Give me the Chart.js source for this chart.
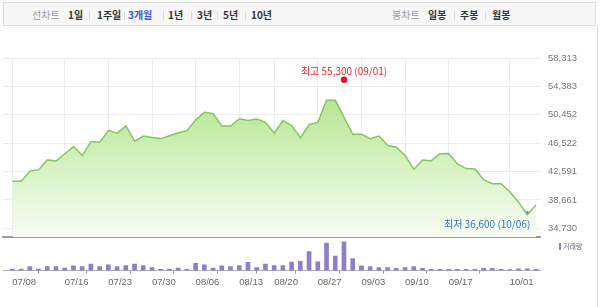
<!DOCTYPE html>
<html><head><meta charset="utf-8">
<script src="https://cdn.jsdelivr.net/npm/chart.js@4.4.1/dist/chart.umd.min.js"></script>
<style>
html,body{margin:0;padding:0;}
body{width:600px;height:307px;overflow:hidden;background:#fff;position:relative;font-family:'Noto Sans CJK KR','Noto Sans',sans-serif;}
.hdr{position:absolute;left:3px;top:2px;width:593px;height:24px;background:#f7f7f7;border:1px solid #dcdcdc;box-sizing:border-box;}
.t{position:absolute;top:9px;font-size:10px;line-height:12px;font-weight:bold;color:#333;white-space:nowrap;}
.g{color:#9a9a9a;font-weight:normal;}
.sel{color:#3b5cc4;}
.sep{position:absolute;top:11px;width:1px;height:9px;background:#dadada;}
.rb{position:absolute;left:597px;top:26px;width:1px;height:281px;background:#d6d6d6;}
#pc{position:absolute;left:0;top:40px;}
#vc{position:absolute;left:0;top:237px;}
.leg{position:absolute;left:559px;top:242px;font-size:7px;line-height:8px;color:#666;white-space:nowrap;}
.leg i{display:inline-block;width:2px;height:7px;background:#8f7fc4;margin-right:2px;vertical-align:-1px;}
</style>
</head><body>
<div class="hdr"></div>
<span class="t g" style="left:32px">선차트</span>
<span class="t" style="left:68px">1일</span>
<span class="sep" style="left:89px"></span>
<span class="t" style="left:97px">1주일</span>
<span class="sep" style="left:124px"></span>
<span class="t sel" style="left:128px">3개월</span>
<span class="sep" style="left:163px"></span>
<span class="t" style="left:168px">1년</span>
<span class="sep" style="left:191px"></span>
<span class="t" style="left:197px">3년</span>
<span class="sep" style="left:217px"></span>
<span class="t" style="left:223px">5년</span>
<span class="sep" style="left:245px"></span>
<span class="t" style="left:251px">10년</span>
<span class="t g" style="left:392px">봉차트</span>
<span class="t" style="left:428px">일봉</span>
<span class="sep" style="left:454px"></span>
<span class="t" style="left:460px">주봉</span>
<span class="sep" style="left:485px"></span>
<span class="t" style="left:492px">월봉</span>
<div class="rb"></div>
<canvas id="pc" width="600" height="211"></canvas>
<canvas id="vc" width="600" height="70"></canvas>
<div class="leg"><i></i>거래량</div>
<script>
// ---- data ----
const dates = ['07/08','07/09','07/10','07/11','07/14','07/15','07/16','07/17','07/18','07/21',
  '07/22','07/23','07/24','07/25','07/28','07/29','07/30','07/31','08/01','08/04',
  '08/05','08/06','08/07','08/08','08/11','08/12','08/13','08/14','08/18','08/19',
  '08/20','08/21','08/22','08/25','08/26','08/27','08/28','08/29','09/01','09/02',
  '09/03','09/04','09/05','09/08','09/09','09/10','09/11','09/12','09/15','09/16',
  '09/17','09/18','09/19','09/22','09/23','09/29','09/30','10/01','10/02','10/06','10/07'];
const closePrices = [41250,41250,42650,42850,44200,44050,45050,46050,44800,46750,
  46650,48300,47900,48900,46800,47500,47300,47150,47550,47950,
  48250,49750,50800,50600,48900,48900,49900,49650,49850,49400,
  47900,49650,48950,47250,49100,49400,52450,52450,50100,47750,
  47750,47150,47500,46200,45950,44800,42900,44200,44100,45050,
  45100,43650,43000,42950,41450,40900,40900,39800,38350,36600,37950];
const volumes = [170,170,430,170,430,430,270,500,430,700,
  430,600,430,530,700,530,330,130,170,270,
  130,770,600,270,500,430,530,870,330,700,
  530,530,900,980,2030,930,2930,1530,3070,1270,
  500,430,330,330,230,330,430,230,130,130,
  130,130,130,130,230,230,130,100,200,200,130];
const priceTicks = [34730,38661,42591,46522,50452,54383,58313];
const tickDates = ['07/08','07/16','07/23','07/30','08/06','08/13','08/20','08/27','09/03','09/10','09/17','10/01'];
const highDate = '09/01', highValue = 55300;
const lowDate = '10/06', lowValue = 36600;

// ---- helpers ----
const fmt = v => Math.round(v).toLocaleString('en-US');
const tickIdx = tickDates.map(d => dates.indexOf(d));
const xMin = -1.07, xMax = dates.length - 1 + 0.46;
const axisFont = {family:"'Liberation Sans', Arial, sans-serif", size:9.5};
const fixW = a => { a.width = 60; };

const markerPlugin = {
  id:'markers',
  afterDatasetsDraw(chart){
    const meta = chart.getDatasetMeta(1);
    const ctx = chart.ctx;
    ctx.save();
    ctx.font = "10px 'Noto Sans CJK KR', sans-serif";
    ctx.textBaseline = 'middle';
    const hp = meta.data[0], lp = meta.data[1];
    ctx.fillStyle = '#e0282e';
    ctx.textAlign = 'center';
    ctx.fillText('최고 ' + fmt(highValue) + ' (' + highDate + ')', hp.x, hp.y - 9);
    ctx.fillStyle = '#3470bd';
    ctx.textAlign = 'right';
    ctx.fillText('최저 ' + fmt(lowValue) + ' (' + lowDate + ')', lp.x + 3, lp.y + 9);
    ctx.restore();
  }
};

new Chart(document.getElementById('pc'), {
  data:{
    datasets:[{
      type:'line',
      data: closePrices.map((v,i)=>({x:i,y:v})),
      borderColor:'#84c65e', borderWidth:1.5, pointRadius:0, tension:0,
      fill:'start',
      backgroundColor(ctx){
        const ca = ctx.chart.chartArea;
        if(!ca) return 'rgba(170,225,130,0.5)';
        const g = ctx.chart.ctx.createLinearGradient(0, ca.top, 0, ca.bottom);
        g.addColorStop(0, '#a0dd76');
        g.addColorStop(0.45, '#c9eeb0');
        g.addColorStop(1, '#f8fdf5');
        return g;
      }
    },{
      type:'scatter',
      data:[{x:dates.indexOf(highDate), y:highValue},{x:dates.indexOf(lowDate), y:lowValue}],
      pointRadius:3.2, pointHoverRadius:3.2,
      pointBackgroundColor:['#e3161f','#1f64bb'], pointBorderWidth:0
    }]
  },
  options:{
    responsive:false, animation:false, events:[],
    layout:{padding:{left:3,top:18,right:0,bottom:2}},
    plugins:{legend:{display:false}, tooltip:{enabled:false}},
    scales:{
      x:{type:'linear', min:xMin, max:xMax,
         afterBuildTicks(a){ a.ticks = tickIdx.map(v=>({value:v})); },
         afterFit(a){ a.height = 0; },
         ticks:{display:false},
         grid:{color:'#ececec', drawTicks:false, lineWidth:1},
         border:{color:'#9a9a9a', width:2}},
      y:{type:'linear', position:'right', min:33482, max:58313,
         afterBuildTicks(a){ a.ticks = priceTicks.map(v=>({value:v})); },
         afterFit: fixW,
         ticks:{callback:v=>fmt(v), color:'#777', font:axisFont, padding:8},
         grid:{color:'#ececec', drawTicks:false},
         border:{display:false}}
    }
  },
  plugins:[markerPlugin]
});

new Chart(document.getElementById('vc'), {
  type:'bar',
  data:{datasets:[{
    data: volumes.map((v,i)=>({x:i,y:v})),
    backgroundColor:'#8f7fc4', barThickness:4
  }]},
  options:{
    responsive:false, animation:false, events:[],
    layout:{padding:{left:3,top:0,right:0,bottom:15}},
    plugins:{legend:{display:false}, tooltip:{enabled:false}},
    scales:{
      x:{type:'linear', min:xMin, max:xMax, offset:false,
         afterBuildTicks(a){ a.ticks = tickIdx.map(v=>({value:v})); },
         ticks:{callback:v=>dates[v], align:'start', color:'#666', font:axisFont, padding:3.5, maxRotation:0, autoSkip:false},
         grid:{drawOnChartArea:false, drawTicks:true, tickLength:3, tickColor:'#999'},
         border:{color:'#b0b0b0', width:1}},
      y:{type:'linear', position:'right', min:0, max:3570,
         afterFit: fixW,
         ticks:{display:false}, grid:{display:false}, border:{display:false}}
    }
  }
});
</script>
</body></html>
